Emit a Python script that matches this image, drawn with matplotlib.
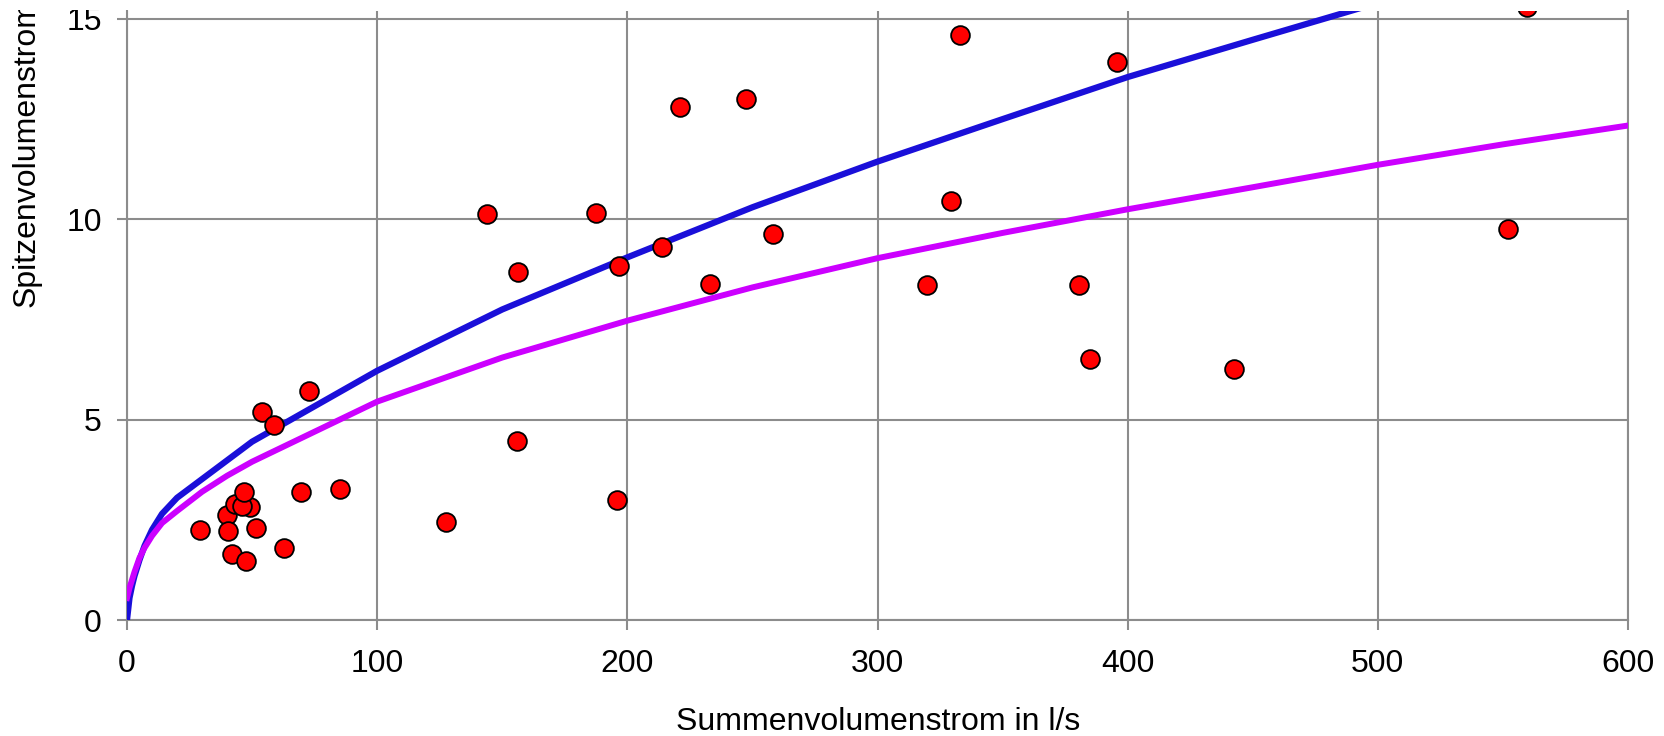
import matplotlib
matplotlib.use('Agg')
import matplotlib.pyplot as plt
from matplotlib.patches import Rectangle

# scatter points (Summenvolumenstrom l/s, Spitzenvolumenstrom l/s)
x_pts = [29.0, 39.8, 40.4, 42.1, 43.2, 49.0, 46.0, 46.6, 47.4, 51.7, 54.0, 58.9,
         62.6, 69.4, 72.7, 85.1, 127.6, 143.9, 155.8, 156.2, 187.3, 195.7, 196.8,
         213.7, 220.9, 233.2, 247.5, 258.1, 319.6, 329.5, 333.1, 380.4, 384.8,
         395.8, 442.6, 552.0, 559.6]
y_pts = [2.25, 2.62, 2.22, 1.64, 2.89, 2.83, 2.85, 3.19, 1.47, 2.29, 5.20, 4.87,
         1.80, 3.19, 5.71, 3.26, 2.45, 10.13, 4.47, 8.68, 10.16, 2.99, 8.84,
         9.32, 12.80, 8.39, 12.99, 9.63, 8.36, 10.45, 14.59, 8.35, 6.51,
         13.92, 6.26, 9.75, 15.3]

# blue curve
x_blue = [0, 1, 2, 3, 5, 7, 10, 14, 20, 50, 100, 150, 200, 250, 300, 350, 400,
          450, 500]
y_blue = [0.0, 0.55, 0.85, 1.1, 1.5, 1.85, 2.25, 2.65, 3.05, 4.45, 6.22, 7.75,
          9.05, 10.3, 11.44, 12.5, 13.55, 14.48, 15.4]

# magenta curve
x_mag = [0, 1, 2, 3, 5, 7, 10, 14, 20, 30, 40, 50, 100, 150, 200, 250, 300,
         350, 400, 450, 500, 550, 600]
y_mag = [0.55, 0.8, 1.0, 1.2, 1.55, 1.8, 2.1, 2.42, 2.72, 3.2, 3.6, 3.95, 5.45,
         6.55, 7.47, 8.3, 9.03, 9.66, 10.25, 10.8, 11.36, 11.87, 12.34]

x_ticks = [0, 100, 200, 300, 400, 500, 600]
y_ticks = [0, 5, 10, 15]

plt.rcParams['font.family'] = ['Liberation Sans', 'DejaVu Sans']
grey = '#8c8c8c'
fs = 23

fig = plt.figure(figsize=(16.65, 7.36), dpi=100)
W, H = 1665, 736
left, right, bottom, top = 127, 1628, 620, 11
ax = fig.add_axes([left / W, 1 - bottom / H, (right - left) / W, (bottom - top) / H])

ax.plot(x_blue, y_blue, color='#1a0fd9', lw=4.5, zorder=3, solid_joinstyle='round')
ax.plot(x_mag, y_mag, color='#cc00ff', lw=4.3, zorder=3, solid_joinstyle='round')
ax.plot(x_pts, y_pts, 'o', color='#ff0000', markeredgecolor='black',
        markeredgewidth=1.3, markersize=13.5, zorder=4)

ax.set_xlim(0, 600)
ax.set_ylim(0, (bottom - top) / 40.07)
ax.set_xticks(x_ticks)
ax.set_yticks(y_ticks)
ax.grid(True, color=grey, lw=1.5)
ax.set_axisbelow(True)
for side in ['left', 'bottom', 'right']:
    ax.spines[side].set_color(grey)
    ax.spines[side].set_linewidth(1.5)
ax.spines['top'].set_visible(False)
ax.tick_params(axis='both', direction='out', length=7.2, width=1.5, color=grey,
               labelsize=fs, labelcolor='black')
ax.tick_params(axis='y', pad=11)
ax.tick_params(axis='x', pad=14)

fig.text(0.5 * (676 + 1080) / W, 1 - 730 / H, 'Summenvolumenstrom in l/s',
         fontsize=fs, ha='center', va='baseline')
fig.text(27 / W, 1 - 307 / H, 'Spitzenvolumenstrom', fontsize=fs,
         rotation=90, ha='center', va='bottom')

# the original picture is cut off at the top
fig.add_artist(Rectangle((0, 1 - 10 / H), 1, 10 / H, transform=fig.transFigure,
                         facecolor='white', edgecolor='none', zorder=10))

fig.savefig('out.png', dpi=100)
